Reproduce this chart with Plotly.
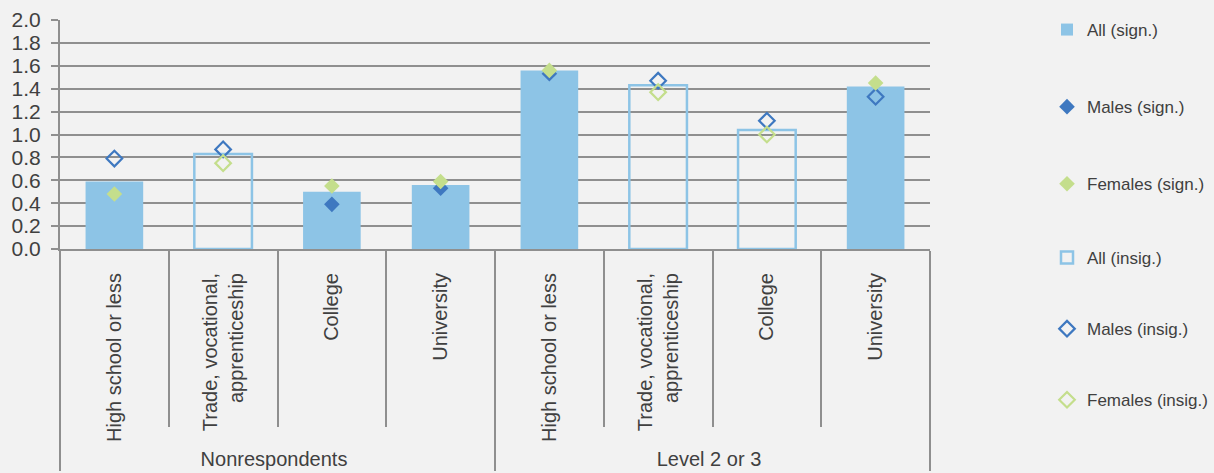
import plotly.graph_objects as go

# ---- data ----
groups = ["Nonrespondents"] * 4 + ["Level 2 or 3"] * 4
categories = ["High school or less", "Trade, vocational,<br>apprenticeship", "College", "University"] * 2
all_vals = [0.59, 0.83, 0.50, 0.56, 1.56, 1.43, 1.04, 1.42]
all_sign = [True, False, True, True, True, False, False, True]
male_vals = [0.79, 0.87, 0.39, 0.53, 1.53, 1.47, 1.12, 1.33]
male_sign = [False, False, True, True, True, False, False, False]
female_vals = [0.48, 0.75, 0.55, 0.59, 1.56, 1.37, 1.00, 1.45]
female_sign = [True, False, True, True, True, False, False, True]
y_ticks = [0.0, 0.2, 0.4, 0.6, 0.8, 1.0, 1.2, 1.4, 1.6, 1.8, 2.0]

BAR = "#8DC4E6"
MALE = "#3E78C0"
FEMALE = "#C4DE8C"
TXT = "#404040"
GRID = "#8F8F8F"
BG = "#F2F2F2"
FONT = "Liberation Sans, Arial, sans-serif"

x = [groups, categories]


def pick(vals, flags, want):
    return [v if f == want else None for v, f in zip(vals, flags)]


fig = go.Figure()
fig.add_trace(go.Bar(x=x, y=pick(all_vals, all_sign, True), name="All (sign.)",
                     marker=dict(color=BAR, line=dict(color=BAR, width=0)), width=0.53,
                     legend="legend", legendrank=1, legendgroup="a"))
fig.add_trace(go.Bar(x=x, y=pick(all_vals, all_sign, False), name="All (insig.)",
                     marker=dict(color="rgba(0,0,0,0)", line=dict(color=BAR, width=2.5)), width=0.53,
                     legend="legend2", legendrank=4, legendgroup="d"))
fig.add_trace(go.Scatter(x=x, y=pick(male_vals, male_sign, True), name="Males (sign.)", mode="markers",
                         marker=dict(symbol="diamond", size=12, color=MALE, line=dict(width=0)),
                         legend="legend", legendrank=2, legendgroup="b"))
fig.add_trace(go.Scatter(x=x, y=pick(male_vals, male_sign, False), name="Males (insig.)", mode="markers",
                         marker=dict(symbol="diamond-open", size=12, color=MALE, line=dict(width=2.2, color=MALE)),
                         legend="legend2", legendrank=5, legendgroup="e"))
fig.add_trace(go.Scatter(x=x, y=pick(female_vals, female_sign, True), name="Females (sign.)", mode="markers",
                         marker=dict(symbol="diamond", size=12, color=FEMALE, line=dict(width=0)),
                         legend="legend", legendrank=3, legendgroup="c"))
fig.add_trace(go.Scatter(x=x, y=pick(female_vals, female_sign, False), name="Females (insig.)", mode="markers",
                         marker=dict(symbol="diamond-open", size=12, color=FEMALE, line=dict(width=2.2, color=FEMALE)),
                         legend="legend2", legendrank=6, legendgroup="f"))

legend_common = dict(xref="container", yref="container", x=1047 / 1214,
                     xanchor="left", yanchor="top", tracegroupgap=52,
                     font=dict(family=FONT, size=17, color=TXT), bgcolor="rgba(0,0,0,0)",
                     itemsizing="trace")

fig.update_layout(
    width=1214, height=473,
    margin=dict(l=60, r=284, t=20, b=224),
    paper_bgcolor=BG, plot_bgcolor=BG,
    barmode="overlay",
    font=dict(family=FONT, color=TXT, size=20),
    showlegend=True,
    legend=dict(y=1 - 12 / 473, **legend_common),
    legend2=dict(y=1 - 240 / 473, **{**legend_common, "tracegroupgap": 46}),
)
fig.update_yaxes(range=[0, 2.0], tickvals=y_ticks, ticktext=[f"{v:.1f}" for v in y_ticks],
                 showgrid=True, gridcolor=GRID, gridwidth=1.5, zeroline=False,
                 showline=True, linecolor=GRID, linewidth=2,
                 ticks="outside", ticklen=7, tickcolor=GRID, tickwidth=2,
                 ticklabelstandoff=6, automargin=False,
                 tickfont=dict(family=FONT, size=21, color=TXT))
fig.update_xaxes(type="multicategory", showline=True, linecolor=GRID, linewidth=2,
                 ticks="outside", ticklen=176, tickcolor=GRID, tickwidth=2, tickson="boundaries",
                 showdividers=True, dividercolor=GRID, dividerwidth=2,
                 tickangle=-90, ticklabelstandoff=14, automargin=False,
                 tickfont=dict(family=FONT, size=20, color=TXT))

fig.write_html("out.html")
